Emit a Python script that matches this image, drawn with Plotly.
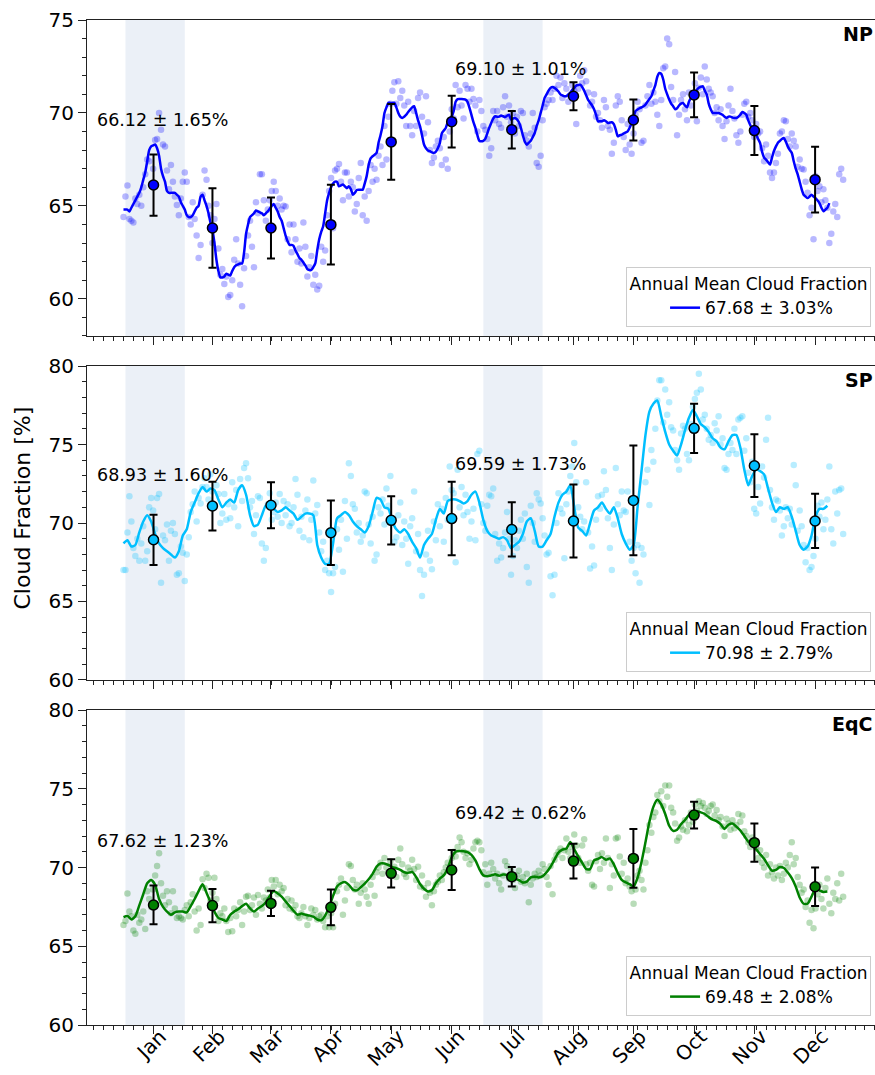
import plotly.graph_objects as go

FONT = "DejaVu Sans"

# ---------------- data ----------------
months = ["Jan", "Feb", "Mar", "Apr", "May", "Jun", "Jul", "Aug", "Sep", "Oct", "Nov", "Dec"]
month_day = [15.2, 45.0, 74.6, 104.9, 135.4, 166.0, 196.4, 227.6, 257.9, 288.6, 319.1, 349.8]
days = list(range(365))
shade_jan = [1, 31]
shade_jul = [182, 212]

np_daily = [
    64.4, 65.5, 66.1, 64.3, 64.2, 64.1, 65.4, 65.1, 65.6, 65.0,
    66.0, 66.7, 67.5, 67.4, 66.2, 67.0, 68.55, 68.6, 70.0, 69.1,
    68.3, 68.2, 66.9, 65.9, 67.2, 66.3, 65.5, 65.05, 64.5, 65.4,
    66.3, 66.8, 66.3, 64.4, 64.0, 65.2, 64.3, 63.4, 62.2, 62.9,
    65.6, 66.9, 66.4, 65.0, 64.5, 63.0, 64.3, 65.1, 62.7, 61.3,
    61.6, 60.8, 61.2, 60.1, 60.2, 61.0, 62.1, 63.2, 61.9, 60.75,
    59.6, 61.65, 62.3, 63.4, 64.2, 62.8, 61.7, 65.2, 64.6, 66.7,
    66.7, 65.3, 64.2, 64.8, 65.3, 65.8, 66.3, 65.8, 65.0, 65.4,
    64.8, 65.0, 64.97, 63.2, 64.0, 62.5, 64.0, 63.2, 62.0, 62.7,
    61.9, 64.1, 62.8, 61.2, 61.7, 62.3, 60.75, 61.3, 60.5, 60.7,
    62.8, 62.0, 62.6, 64.5, 65.8, 66.5, 63.8, 66.9, 67.0, 67.25,
    66.3, 65.3, 66.8, 66.8, 65.5, 66.3, 66.0, 64.7, 65.1, 66.5,
    67.3, 64.5, 65.5, 64.2, 65.8, 67.2, 66.3, 67.0, 66.4, 67.7,
    68.2, 67.2, 69.3, 67.5, 69.8, 70.5, 71.2, 71.65, 70.5, 71.7,
    70.8, 71.2, 70.4, 69.3, 70.6, 69.3, 68.8, 70.1, 69.3, 70.8,
    71.1, 69.8, 68.9, 70.9, 69.5, 68.0, 67.3, 67.6, 68.2, 68.5,
    68.1, 67.2, 68.7, 67.5, 67.0, 69.0, 70.2, 69.7, 71.5, 70.3,
    71.2, 70.4, 69.7, 71.5, 71.3, 70.6, 71.3, 70.75, 70.4, 69.0,
    70.7, 70.1, 69.3, 69.1, 68.6, 67.7, 68.1, 70.1, 69.6, 70.1,
    69.4, 69.2, 70.3, 70.9, 69.8, 70.4, 69.5, 70.0, 68.9, 69.8,
    69.3, 70.1, 70.0, 68.8, 68.5, 68.2, 68.9, 70.0, 69.2, 67.3,
    67.1, 67.7, 69.6, 70.3, 70.5, 70.7, 71.1, 70.7, 71.3, 72.0,
    71.5, 71.9, 70.8, 71.6, 71.3, 70.6, 70.9, 71.5, 71.2, 69.4,
    71.3, 72.0, 71.6, 72.3, 71.7, 71.1, 70.4, 70.6, 71.0, 69.8,
    70.0, 69.6, 69.2, 70.7, 70.3, 69.3, 69.1, 67.8, 68.4, 70.4,
    70.9, 70.6, 69.6, 68.7, 68.0, 69.4, 68.3, 67.8, 68.9, 69.9,
    70.6, 70.2, 68.4, 68.5, 70.4, 70.9, 71.5, 70.5, 71.1, 70.6,
    69.9, 69.3, 70.7, 72.4, 72.5, 74.0, 73.7, 71.4, 70.7, 72.2,
    68.8, 69.9, 70.7, 71.0, 70.2, 69.6, 71.1, 70.4, 70.9, 71.6,
    69.55, 71.35, 71.9, 71.0, 72.5, 71.8, 71.3, 71.1, 70.9, 70.0,
    70.3, 69.6, 70.2, 69.3, 68.6, 69.55, 70.4, 71.3, 70.1, 69.7,
    68.8, 68.4, 69.0, 69.9, 70.5, 70.6, 69.8, 70.0, 69.6, 68.7,
    69.4, 68.9, 69.0, 68.1, 67.4, 68.3, 67.7, 66.8, 66.5, 66.8,
    67.3, 67.8, 68.9, 69.0, 69.6, 69.55, 68.6, 68.2, 68.9, 68.5,
    68.2, 67.1, 67.5, 67.0, 66.95, 66.3, 65.7, 64.5, 64.9, 63.2,
    66.6, 65.8, 66.05, 65.2, 65.9, 65.3, 64.9, 63.0, 63.5, 64.7,
    65.1, 64.4, 66.7, 67.0, 66.4,
]

sp_daily = [
    67.0, 67.0, 69.4, 71.7, 70.1, 68.4, 67.9, 69.0, 67.6, 68.7,
    69.8, 67.6, 68.2, 71.0, 71.6, 70.8, 69.6, 71.6, 71.85, 66.2,
    69.2, 68.9, 69.9, 67.6, 69.5, 70.0, 69.3, 66.7, 66.8, 68.5,
    68.1, 66.3, 68.0, 69.1, 70.7, 71.2, 72.0, 70.1, 71.6, 71.25,
    72.3, 72.85, 72.3, 71.5, 73.1, 72.0, 71.0, 72.4, 71.85, 70.0,
    70.6, 71.85, 70.2, 71.2, 70.3, 72.6, 71.0, 72.1, 69.8, 72.8,
    71.4, 73.5, 73.8, 72.85, 71.0, 71.4, 69.3, 70.5, 71.7, 71.6,
    68.7, 67.6, 68.4, 71.2, 71.9, 70.2, 70.7, 71.3, 70.4, 71.85,
    70.0, 71.4, 70.5, 71.2, 69.8, 70.0, 71.0, 72.8, 71.8, 69.5,
    70.4, 69.1, 70.8, 71.5, 68.9, 70.2, 72.7, 70.6, 71.15, 69.4,
    68.2, 68.8, 67.0, 67.6, 66.8, 65.6, 66.8, 67.2, 69.6, 68.3,
    70.2, 66.9, 71.4, 69.0, 73.8, 73.0, 71.2, 70.9, 69.4, 70.0,
    68.8, 69.2, 72.0, 71.9, 69.9, 68.7, 70.4, 67.6, 68.0, 71.0,
    70.6, 71.5, 69.9, 72.2, 71.1, 73.0, 70.3, 68.8, 69.1, 70.5,
    71.3, 68.6, 70.1, 69.0, 67.4, 69.8, 70.3, 72.0, 68.2, 69.3,
    67.0, 65.35, 66.7, 68.0, 69.5, 67.6, 67.05, 70.1, 68.9, 71.2,
    69.8, 70.9, 68.8, 71.6, 70.2, 73.6, 72.1, 71.9, 67.5, 73.4,
    71.0, 72.3, 70.5, 71.8, 70.7, 69.0, 70.1, 70.9, 68.9, 74.4,
    74.6, 71.2, 70.0, 69.5, 71.1, 71.8, 71.7, 72.2, 69.3, 67.6,
    68.7, 67.8, 68.4, 69.4, 70.7, 69.0, 66.7, 67.9, 68.9, 68.4,
    69.5, 70.2, 69.0, 70.6, 67.2, 66.2, 71.1, 70.0, 68.8, 71.9,
    71.5, 71.25, 70.3, 69.2, 68.0, 68.1, 66.6, 65.4, 66.7, 70.0,
    71.9, 70.9, 70.6, 67.75, 71.2, 72.0, 73.0, 73.6, 75.1, 72.6,
    71.0, 70.4, 69.6, 70.1, 72.6, 69.4, 67.1, 68.5, 67.3, 70.2,
    71.7, 70.9, 71.8, 73.3, 72.1, 70.3, 68.4, 67.0, 69.9, 73.5,
    71.2, 70.5, 72.0, 70.8, 70.7, 72.0, 68.8, 67.6, 68.4, 66.8,
    68.6, 66.2, 68.4, 68.0, 72.6, 73.4, 71.15, 74.65, 73.9, 76.0,
    77.8, 79.1, 79.1, 76.4, 78.5, 76.9, 77.7, 76.1, 75.9, 74.65,
    74.0, 73.4, 75.7, 76.2, 76.0, 74.4, 74.0, 76.3, 77.4, 77.9,
    78.3, 79.5, 78.5, 76.6, 76.9, 76.0, 75.3, 75.6, 75.1, 76.35,
    75.9, 76.8, 75.0, 75.4, 73.5, 73.4, 74.4, 75.1, 74.65, 76.0,
    74.4, 76.6, 76.7, 76.8, 74.6, 75.4, 73.2, 72.6, 73.9, 70.9,
    70.6, 72.3, 71.25, 73.6, 72.9, 75.3, 76.7, 72.1, 71.0, 70.2,
    71.5, 71.4, 70.8, 69.2, 69.8, 71.0, 70.3, 70.9, 69.9, 73.7,
    72.4, 69.5, 70.8, 69.8, 68.6, 67.5, 68.4, 67.0, 67.2, 67.9,
    69.0, 71.1, 70.4, 71.3, 69.6, 70.2, 71.5, 73.6, 69.6, 68.7,
    72.0, 70.6, 72.1, 72.2, 69.3,
]

eq_daily = [
    66.35, 66.6, 68.35, 67.2, 66.9, 66.0, 65.8, 67.0, 66.5, 66.7,
    67.2, 66.1, 68.5, 68.0, 67.5, 68.6, 69.5, 70.1, 70.9, 69.0,
    68.2, 67.6, 68.5, 67.8, 67.1, 68.5, 67.4, 66.8, 66.9, 66.8,
    66.7, 67.3, 67.6, 66.9, 67.8, 68.3, 67.2, 66.0, 67.4, 66.35,
    69.25, 68.7, 69.6, 69.35, 67.9, 68.4, 69.35, 68.0, 66.6, 67.1,
    66.9, 67.4, 66.6, 65.9, 66.8, 65.96, 67.4, 66.9, 67.3, 67.8,
    66.35, 67.2, 68.15, 68.2, 67.3, 67.6, 68.1, 67.0, 68.25, 67.7,
    67.4, 68.1, 67.9, 68.6, 68.1, 69.2, 68.8, 69.2, 68.3, 68.9,
    68.5, 68.7, 67.6, 68.0, 67.4, 67.9, 67.3, 67.6, 66.9, 66.8,
    67.1, 67.5, 66.9, 66.35, 66.8, 67.4, 67.0, 67.3, 66.7, 66.9,
    67.0, 66.6, 66.2, 66.9, 66.2, 67.1, 66.2, 67.7, 68.5, 68.9,
    69.3, 67.0, 67.9, 68.7, 70.2, 70.1, 69.2, 68.6, 68.9, 67.7,
    68.4, 69.0, 68.6, 68.15, 67.7, 68.9, 69.4, 68.2, 69.7, 70.0,
    70.3, 69.6, 70.6, 70.0, 69.7, 70.4, 69.5, 70.05, 69.4, 70.5,
    71.2, 70.2, 69.6, 69.4, 70.0, 69.8, 70.5, 69.9, 69.2, 70.05,
    68.8, 69.5, 68.7, 68.15, 69.0, 68.4, 67.6, 68.5, 68.9, 69.1,
    69.5, 69.2, 69.7, 70.0, 70.3, 69.8, 70.6, 71.0, 70.7, 71.3,
    71.9, 71.6, 71.0, 70.6, 70.9, 70.2, 70.5, 71.2, 71.6, 71.7,
    71.6, 71.1, 69.7, 70.2, 68.9, 69.6, 70.3, 69.9, 69.3, 69.6,
    69.0, 68.6, 69.5, 70.4, 70.1, 69.3, 69.8, 69.2, 68.7, 69.5,
    69.8, 69.1, 69.4, 69.0, 69.6, 67.8, 68.9, 69.3, 69.6, 69.4,
    69.8, 69.5, 70.2, 69.9, 69.4, 68.9, 70.1, 68.3, 70.5, 70.8,
    71.0, 71.2, 70.6, 71.1, 71.85, 71.0, 70.6, 71.3, 72.1, 71.4,
    70.6, 70.3, 71.4, 71.8, 70.2, 69.8, 70.3, 68.9, 68.8, 70.4,
    70.8, 69.9, 70.9, 70.3, 71.85, 70.6, 68.7, 70.2, 69.5, 71.85,
    71.9, 70.7, 69.6, 70.3, 69.0, 69.3, 68.8, 68.5, 67.7, 68.6,
    69.5, 69.8, 69.2, 68.6, 70.3, 71.1, 72.7, 72.2, 73.2, 73.5,
    74.6, 74.2, 74.85, 73.9, 75.2, 74.5, 75.2, 73.8, 73.5, 72.8,
    71.7, 71.9, 72.6, 72.4, 73.0, 72.3, 72.7, 73.5, 72.9, 74.0,
    73.6, 74.2, 73.9, 74.1, 73.8, 73.4, 73.6, 73.9, 74.0, 73.3,
    73.65, 73.0, 73.2, 72.6, 72.0, 73.1, 72.8, 72.4, 73.0, 72.5,
    72.7, 73.4, 72.9, 73.3, 72.3, 72.0, 71.6, 71.3, 71.9, 71.75,
    71.2, 70.6, 71.1, 70.3, 70.0, 70.8, 69.5, 70.2, 69.7, 69.3,
    70.0, 69.5, 70.1, 69.2, 69.6, 70.3, 70.0, 70.8, 71.6, 70.2,
    70.6, 69.4, 68.9, 68.4, 68.6, 67.5, 67.9, 66.5, 67.3, 66.15,
    67.4, 68.3, 68.9, 68.0, 67.4, 68.7, 69.3, 67.7, 67.1, 68.4,
    68.0, 69.0, 67.9, 69.6, 68.15,
]

# smoothed curves
np_line_days = list(range(358))
np_line = [
    64.8, 64.8, 64.8, 64.7, 64.9, 65.1, 65.3, 65.5, 65.7, 66.0,
    66.4, 66.8, 67.4, 68.0, 68.2, 68.25, 68.3, 68.1, 67.7, 67.0,
    66.6, 66.3, 65.8, 65.7, 65.7, 65.7, 65.7, 65.6, 65.5, 65.2,
    65.0, 64.8, 64.5, 64.4, 64.4, 64.5, 64.7, 64.9, 65.0, 65.5,
    65.6, 65.3, 65.0, 64.6, 64.1, 63.7, 63.0, 62.1, 61.5, 61.15,
    61.15, 61.2, 61.35, 61.3, 61.25, 61.5, 61.7, 61.8, 61.85, 61.9,
    61.9, 62.5, 63.5, 64.0, 64.4, 64.5, 64.6, 64.75, 64.7, 64.65,
    64.6, 64.5, 64.6, 64.7, 64.85, 65.0, 65.1, 64.9, 64.7, 64.4,
    64.2, 63.8, 63.4, 63.1, 62.9, 62.9, 62.85, 62.6, 62.4, 62.2,
    62.1, 61.95, 61.8, 61.6, 61.55, 61.55, 61.7, 61.9, 62.6, 63.2,
    63.6, 63.9, 64.6, 65.3, 65.7, 66.0, 66.2, 66.3, 66.3, 66.05,
    66.1, 66.15, 66.05, 65.95, 66.05, 65.9, 65.6, 65.7, 65.85, 65.87,
    65.87, 65.87, 66.2, 66.6, 67.2, 67.55, 67.67, 67.75, 67.85, 68.4,
    68.8, 69.28, 70.0, 70.3, 70.54, 70.54, 70.54, 70.54, 70.3, 70.0,
    69.8, 69.73, 69.8, 69.9, 70.05, 70.18, 70.3, 70.36, 70.0, 69.6,
    69.28, 68.8, 68.3, 68.1, 67.98, 67.94, 67.88, 67.85, 67.92, 68.1,
    68.38, 68.9, 69.05, 69.19, 69.5, 69.7, 69.82, 70.1, 70.6, 70.74,
    70.75, 70.75, 70.74, 70.72, 70.6, 70.27, 69.9, 69.5, 69.2, 68.8,
    68.5, 68.47, 68.5, 68.6, 68.9, 69.2, 69.46, 69.7, 69.82, 69.8,
    69.8, 69.86, 69.82, 69.78, 69.85, 69.9, 69.64, 69.7, 69.73, 69.65,
    69.5, 69.2, 68.8, 68.45, 68.29, 68.4, 68.5, 68.7, 68.92, 69.3,
    69.6, 70.0, 70.4, 70.81, 71.0, 71.2, 71.35, 71.4, 71.35, 71.26,
    71.15, 71.0, 70.95, 70.9, 70.9, 71.0, 71.1, 71.25, 71.35, 71.47,
    71.5, 71.52, 71.4, 71.2, 70.95, 70.7, 70.55, 70.4, 70.2, 69.9,
    69.55, 69.55, 69.55, 69.6, 69.55, 69.46, 69.48, 69.5, 69.4, 69.1,
    68.74, 68.8, 68.83, 68.9, 68.95, 69.01, 69.2, 69.46, 69.8, 70.1,
    70.18, 70.25, 70.3, 70.36, 70.45, 70.6, 70.75, 70.9, 71.2, 71.5,
    71.95, 72.15, 72.1, 71.8, 71.3, 71.0, 70.72, 70.5, 70.36, 70.2,
    70.25, 70.4, 70.5, 70.54, 70.4, 70.3, 70.6, 70.8, 70.9, 71.1,
    71.25, 71.35, 71.4, 71.44, 71.2, 70.99, 70.5, 70.2, 70.0, 70.0,
    70.0, 70.0, 69.95, 69.9, 69.8, 69.73, 69.8, 69.8, 69.75, 69.73,
    69.73, 69.8, 69.9, 70.05, 70.0, 69.9, 69.6, 69.35, 69.15, 69.0,
    68.83, 68.6, 68.38, 67.9, 67.6, 67.49, 67.35, 67.22, 67.6, 67.95,
    68.2, 68.4, 68.5, 68.6, 68.65, 68.45, 68.2, 68.0, 67.85, 67.4,
    67.0, 66.7, 66.3, 65.9, 65.6, 65.5, 65.42, 65.5, 65.6, 65.5,
    65.42, 65.3, 65.15, 64.9, 64.71, 64.8, 64.9, 65.15,
]

sp_line_days = list(range(0, 358, 2))
sp_line = [
    68.7, 68.9, 68.5, 68.6, 69.4, 70.1, 70.5, 70.1, 69.3, 68.7,
    68.4, 68.2, 68.0, 67.8, 68.2, 69.2, 69.6, 70.7, 71.3, 71.9,
    72.3, 72.0, 72.2, 72.1, 71.5, 71.0, 71.3, 71.5, 71.3, 72.1,
    72.4, 71.8, 70.5, 69.8, 69.9, 70.5, 71.1, 71.0, 70.9, 70.7,
    70.8, 71.0, 70.8, 70.6, 70.2, 70.4, 70.6, 70.6, 70.5, 68.6,
    67.8, 67.4, 67.4, 68.7, 70.3, 70.5, 70.7, 70.5, 70.1, 69.8,
    69.6, 69.4, 69.8, 70.7, 71.6, 71.5, 71.0, 70.9, 70.1, 69.6,
    69.4, 69.6, 69.3, 68.8, 68.4, 67.8, 68.6, 69.0, 69.3, 70.2,
    70.9, 70.6, 71.4, 71.5, 71.5, 71.4, 71.25, 71.4, 71.8, 72.0,
    71.3, 70.2, 69.5, 69.2, 69.1, 69.0, 69.1, 68.9, 68.4, 68.6,
    68.8, 69.3, 70.1, 70.3, 69.5, 68.5, 68.5, 68.9, 69.3, 70.4,
    71.3, 71.8, 72.0, 72.4, 71.0, 69.7, 69.5, 69.2, 70.0, 70.8,
    71.0, 71.3, 70.9, 70.6, 71.0, 70.3, 69.3, 68.7, 68.3, 68.6,
    71.0, 73.3, 75.6, 77.1, 77.6, 77.8, 76.8, 75.8, 75.0, 74.6,
    74.3, 75.0, 75.9, 76.7, 77.2, 76.8, 76.3, 76.1, 75.8, 75.4,
    75.2, 74.8, 74.7, 75.2, 75.6, 75.6, 74.8, 73.4, 72.4, 73.0,
    73.4, 73.3, 73.1, 72.2, 71.3, 70.7, 71.0, 70.9, 71.0, 70.4,
    69.5, 68.6, 68.3, 68.5, 69.2, 70.4, 70.9, 70.9, 71.1,
]

eq_line_days = list(range(0, 358, 2))
eq_line = [
    66.85, 66.92, 66.7, 66.9, 67.6, 68.3, 69.0, 69.2, 68.9, 68.0,
    67.5, 67.2, 67.0, 67.15, 67.2, 67.2, 67.15, 67.55, 68.0, 68.5,
    68.93, 68.4, 67.8, 67.2, 66.8, 66.7, 66.6, 67.0, 67.2, 67.35,
    67.55, 67.7, 67.4, 67.2, 67.4, 67.55, 67.8, 68.2, 68.5, 68.35,
    68.15, 67.85, 67.55, 67.25, 67.0, 67.08, 67.0, 66.95, 66.88, 66.7,
    66.65, 66.95, 67.5, 68.2, 68.8, 69.0, 69.08, 68.9, 68.6, 68.55,
    68.75, 68.98, 69.25, 69.6, 70.05, 70.26, 70.26, 70.16, 70.03, 69.95,
    69.85, 69.7, 69.66, 69.72, 69.4, 68.95, 68.65, 68.48, 68.57, 69.0,
    69.3, 69.5, 69.95, 70.65, 71.0, 71.05, 71.03, 70.98, 70.8, 70.45,
    69.9, 69.5, 69.45, 69.5, 69.57, 69.48, 69.55, 69.53, 69.44, 69.3,
    69.2, 69.05, 69.1, 69.38, 69.42, 69.37, 69.45, 69.7, 70.05, 70.5,
    70.95, 71.13, 71.2, 71.62, 71.15, 70.7, 70.3, 69.9, 69.9, 70.45,
    70.55, 70.66, 70.5, 70.58, 70.2, 69.65, 69.21, 69.05, 68.95, 68.8,
    69.35, 70.35, 71.6, 72.9, 73.85, 74.3, 74.0, 73.4, 72.65, 72.33,
    72.4, 72.75, 73.02, 73.35, 73.57, 73.57, 73.5, 73.4, 73.2, 73.04,
    72.95, 72.75, 72.45, 72.72, 72.8, 72.6, 72.35, 72.0, 71.64, 71.42,
    71.15, 70.85, 70.55, 70.15, 69.8, 69.85, 70.03, 69.97, 69.68, 69.33,
    68.8, 68.1, 67.7, 67.7, 68.15, 68.65, 68.55, 68.45, 68.47,
]

np_mean = [66.12, 63.81, 63.81, 63.99, 68.44, 69.53, 69.10, 70.90, 69.62, 70.97, 69.05, 66.41]
np_std = [1.65, 2.14, 1.64, 2.15, 2.04, 1.39, 1.01, 0.75, 1.10, 1.20, 1.32, 1.77]
sp_mean = [68.93, 71.08, 71.13, 69.38, 70.17, 70.28, 69.59, 70.13, 71.44, 76.03, 73.65, 70.13]
sp_std = [1.60, 1.55, 1.47, 2.05, 1.54, 2.34, 1.73, 2.32, 3.50, 1.57, 2.00, 1.73]
eq_mean = [67.62, 67.58, 67.72, 67.47, 69.63, 69.84, 69.42, 70.41, 70.58, 73.33, 71.58, 68.78]
eq_std = [1.23, 1.05, 0.80, 1.14, 0.90, 1.27, 0.62, 1.10, 1.86, 0.85, 1.22, 1.22]

annual_mean = [67.68, 70.98, 69.48]
annual_std = [3.03, 2.79, 2.08]
region_names = ["NP", "SP", "EqC"]

# ---------------- figure ----------------
panels = [
    dict(daily=np_daily, ldays=np_line_days, line=np_line, mean=np_mean, std=np_std,
         color="#0000ff", yrange=[58, 75], dom=[0.6856, 1.0], lab_y=[69.64, 72.39],
         leg_y=0.6945),
    dict(daily=sp_daily, ldays=sp_line_days, line=sp_line, mean=sp_mean, std=sp_std,
         color="#00bfff", yrange=[60, 80], dom=[0.3433, 0.6557], lab_y=[73.06, 73.76],
         leg_y=0.3512),
    dict(daily=eq_daily, ldays=eq_line_days, line=eq_line, mean=eq_mean, std=eq_std,
         color="#008000", yrange=[60, 80], dom=[0.0, 0.3134], lab_y=[71.70, 73.48],
         leg_y=0.009),
]

fig = go.Figure()
layout = dict(
    width=875, height=1075,
    margin=dict(l=87, r=0, t=20, b=50),
    plot_bgcolor="white", paper_bgcolor="white",
    font=dict(family=FONT, size=20, color="black"),
    showlegend=True,
)
annotations = []
shapes = []
AX = "#222222"
XR = [-18.45, 380.1]

for i, p in enumerate(panels):
    k = "" if i == 0 else str(i + 1)
    xref, yref = "x" + k, "y" + k
    legname = "legend" + k
    col = p["color"]

    fig.add_trace(go.Scatter(
        x=days, y=p["daily"], mode="markers", xaxis=xref, yaxis=yref,
        marker=dict(size=6.5, color=col, opacity=0.28, line=dict(width=0)),
        showlegend=False, hoverinfo="skip"))
    fig.add_trace(go.Scatter(
        x=p["ldays"], y=p["line"], mode="lines", xaxis=xref, yaxis=yref,
        line=dict(color=col, width=2.5, shape="spline", smoothing=0.6),
        name=f"{annual_mean[i]:.2f} ± {annual_std[i]:.2f}%", legend=legname, showlegend=True))
    fig.add_trace(go.Scatter(
        x=month_day, y=p["mean"], mode="markers", xaxis=xref, yaxis=yref,
        marker=dict(size=10, color=col, line=dict(color="black", width=1.5)),
        error_y=dict(type="data", array=p["std"], color="black", thickness=2, width=4),
        showlegend=False))

    xa = dict(
        domain=[0, 1], anchor=yref, range=XR, tickmode="array", tickvals=month_day,
        ticktext=months, showticklabels=(i == 2), ticks="outside", ticklen=8, tickwidth=1.2,
        tickcolor=AX, showline=True, linecolor=AX, linewidth=1.2, mirror=True,
        showgrid=False, zeroline=False, automargin=False,
        minor=dict(ticks="outside", ticklen=4, tickwidth=1, tickcolor=AX,
                   tickmode="linear", tick0=0, dtick=5, showgrid=False),
    )
    if i == 2:
        xa.update(tickangle=-45, tickfont=dict(size=20, family=FONT),
                  ticklabelshift=7, ticklabelstandoff=-17)
    layout["xaxis" + k] = xa
    layout["yaxis" + k] = dict(
        domain=p["dom"], anchor=xref, range=p["yrange"], tickmode="linear", tick0=0, dtick=5,
        ticks="outside", ticklen=8, tickwidth=1.2, tickcolor=AX,
        showline=True, linecolor=AX, linewidth=1.2, mirror=False, automargin=False,
        showgrid=False, zeroline=False, tickfont=dict(size=20, family=FONT),
        minor=dict(ticks="outside", ticklen=4, tickwidth=1, tickcolor=AX,
                   tickmode="linear", tick0=0, dtick=1, showgrid=False),
    )

    for sx in (shade_jan, shade_jul):
        shapes.append(dict(type="rect", xref=xref, yref=yref + " domain",
                           x0=sx[0], x1=sx[1], y0=0, y1=1, layer="below",
                           fillcolor="rgba(176,196,222,0.25)", line=dict(width=0)))

    for j, mi in enumerate((0, 6)):
        annotations.append(dict(
            xref=xref, yref=yref, x=month_day[mi] + 4.4, y=p["lab_y"][j],
            text=f"{p['mean'][mi]:.2f} ± {p['std'][mi]:.2f}%", showarrow=False,
            xanchor="center", yanchor="middle", font=dict(size=17.5, family=FONT, color="black")))

    annotations.append(dict(
        xref=xref + " domain", yref=yref + " domain", x=1.0, y=0.956,
        text=f"<b>{region_names[i]}</b>", showarrow=False, xanchor="right", yanchor="middle",
        font=dict(size=19, family=FONT, color="black")))

    layout[legname] = dict(
        x=0.995, y=p["leg_y"], xref="paper", yref="paper", xanchor="right", yanchor="bottom",
        bgcolor="rgba(255,255,255,0.85)", bordercolor="#cccccc", borderwidth=1,
        font=dict(size=17, family=FONT, color="black"),
        title=dict(text="Annual Mean Cloud Fraction", side="top center",
                   font=dict(size=17, family=FONT, color="black")),
        indentation=38, itemwidth=30,
    )

annotations.append(dict(
    xref="paper", yref="paper", x=-0.0819, y=0.5144, text="Cloud Fraction [%]",
    textangle=-90, showarrow=False, xanchor="center", yanchor="middle",
    font=dict(size=22, family=FONT, color="black")))

layout["annotations"] = annotations
layout["shapes"] = shapes
fig.update_layout(**layout)
fig.write_html("out.html", config={"displayModeBar": False},
               post_script="document.body.style.margin='0px';")
